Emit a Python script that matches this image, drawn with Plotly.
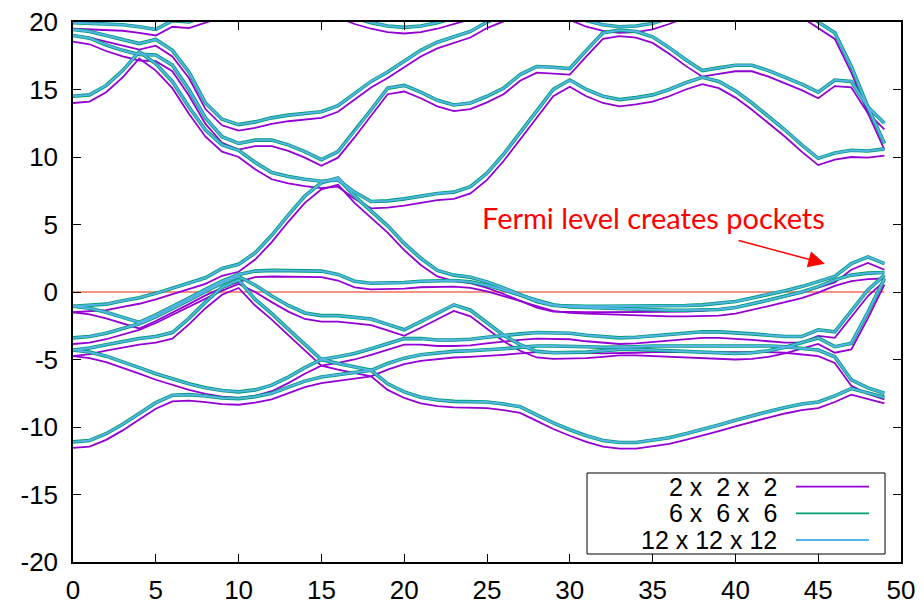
import plotly.graph_objects as go

# k-point index along the path
kpts = [0, 1, 2, 3, 4, 5, 6, 7, 8, 9, 10, 11, 12, 13, 14, 15, 16, 17, 18, 19,
        20, 21, 22, 23, 24, 25, 26, 27, 28, 29, 30, 31, 32, 33, 34, 35, 36, 37, 38, 39,
        40, 41, 42, 43, 44, 45, 46, 47, 48, 49]

# ---- bands, 6x6x6 grid (12x12x12 coincides at this resolution) ----
b1_666 = [-11.1, -11.0, -10.5, -9.8, -9.0, -8.2, -7.65, -7.6, -7.7, -7.85,
          -7.9, -7.75, -7.5, -7.05, -6.6, -6.3, -6.15, -6.0, -5.8, -5.3,
          -4.9, -4.65, -4.5, -4.4, -4.35, -4.3, -4.2, -4.1, -4.0, -4.0,
          -4.0, -4.05, -4.1, -4.1, -4.05, -4.0, -4.0, -3.95, -3.95, -3.95,
          -3.95, -3.95, -4.0, -4.05, -4.15, -4.3, -4.8, -6.5, -7.1, -7.5]
b2_666 = [-4.3, -4.15, -3.9, -3.65, -3.45, -3.3, -3.0, -1.95, -0.75, 0.35,
          0.9, -0.55, -1.6, -2.75, -3.9, -5.0, -5.3, -5.55, -5.8, -6.8,
          -7.4, -7.8, -8.0, -8.1, -8.1, -8.15, -8.3, -8.5, -9.1, -9.7,
          -10.2, -10.65, -11.0, -11.15, -11.15, -11.0, -10.8, -10.5, -10.2, -9.85,
          -9.5, -9.15, -8.85, -8.55, -8.3, -8.15, -7.7, -7.15, -7.5, -7.8]
b3_666 = [-4.3, -4.45, -4.75, -5.15, -5.6, -6.05, -6.45, -6.8, -7.1, -7.3,
          -7.4, -7.25, -6.9, -6.3, -5.6, -5.0, -4.8, -4.55, -4.2, -3.8,
          -3.45, -3.45, -3.55, -3.55, -3.5, -3.35, -3.2, -3.1, -3.0, -3.0,
          -3.05, -3.2, -3.3, -3.4, -3.35, -3.25, -3.1, -3.0, -2.95, -2.95,
          -3.0, -3.1, -3.2, -3.3, -3.3, -2.8, -2.95, -1.4, 0.15, 1.25]
b4_666 = [-3.4, -3.3, -3.05, -2.7, -2.35, -1.85, -1.25, -0.6, 0.05, 0.65,
          1.15, 0.5, -0.3, -1.0, -1.55, -1.75, -1.75, -1.85, -2.0, -2.4,
          -2.8, -2.2, -1.55, -0.95, -1.35, -2.3, -3.2, -3.9, -4.4, -4.5,
          -4.5, -4.45, -4.35, -4.25, -4.25, -4.3, -4.35, -4.45, -4.5, -4.55,
          -4.55, -4.5, -4.35, -4.1, -3.75, -3.4, -4.05, -3.8, -1.5, 1.0]
b5_666 = [-1.05, -1.2, -1.5, -1.9, -2.25, -1.7, -1.1, -0.45, 0.2, 0.8,
          1.3, 1.55, 1.6, 1.6, 1.6, 1.55, 1.3, 0.8, 0.65, 0.65,
          0.7, 0.8, 0.85, 0.85, 0.75, 0.5, 0.15, -0.25, -0.6, -0.95,
          -1.1, -1.15, -1.2, -1.25, -1.3, -1.3, -1.35, -1.35, -1.35, -1.3,
          -1.15, -0.9, -0.6, -0.3, 0.0, 0.4, 0.9, 1.25, 1.4, 1.45]
b6_666 = [-1.05, -1.0, -0.9, -0.65, -0.42, -0.1, 0.3, 0.7, 1.05, 1.75,
          2.05, 2.9, 4.2, 5.7, 7.1, 8.1, 8.45, 7.1, 6.0, 4.9,
          3.6, 2.5, 1.6, 1.25, 1.1, 0.75, 0.3, -0.2, -0.7, -1.0,
          -1.05, -1.05, -1.05, -1.05, -1.05, -1.05, -1.0, -1.0, -0.95, -0.85,
          -0.7, -0.45, -0.2, 0.1, 0.4, 0.75, 1.15, 2.1, 2.6, 2.1]
b7_666 = [14.5, 14.6, 15.3, 16.4, 17.8, 16.9, 15.6, 13.7, 12.0, 10.9,
          10.5, 9.6, 8.85, 8.55, 8.35, 8.2, 8.3, 7.4, 6.7, 6.75,
          6.9, 7.1, 7.3, 7.4, 7.8, 8.8, 10.2, 11.8, 13.4, 15.0,
          15.7, 15.0, 14.5, 14.25, 14.4, 14.6, 15.0, 15.5, 15.9, 15.6,
          14.9, 14.0, 13.0, 12.0, 10.9, 9.9, 10.3, 10.5, 10.45, 10.6]
b8_666 = [19.0, 18.8, 18.3, 17.9, 17.6, 17.55, 16.8, 15.0, 12.9, 11.5,
          11.0, 11.25, 11.25, 10.9, 10.4, 9.8, 10.4, 11.9, 13.5, 15.1,
          15.3, 14.8, 14.2, 13.85, 14.0, 14.5, 15.1, 16.1, 16.7, 16.65,
          16.55, 17.9, 19.2, 19.4, 19.3, 18.9, 18.1, 17.2, 16.4, 16.6,
          16.8, 16.8, 16.4, 15.9, 15.4, 14.8, 15.7, 15.6, 13.7, 12.5]
b9_666 = [19.45, 19.3, 19.0, 18.7, 18.4, 18.7, 17.9, 16.3, 14.0, 12.8,
          12.4, 12.6, 12.9, 13.1, 13.2, 13.35, 13.8, 14.7, 15.6, 16.3,
          17.1, 17.9, 18.5, 18.9, 19.3, 20.0, 20.5, 20.8, 21.0, 21.2,
          21.2, 21.2, 21.2, 21.2, 21.2, 21.2, 21.2, 21.2, 21.2, 21.2,
          21.2, 21.2, 21.2, 21.2, 20.8, 20.0, 19.2, 16.7, 13.7, 11.0]
b10_666 = [19.95, 19.9, 19.85, 19.8, 19.65, 19.45, 20.1, 20.0, 20.4, 20.8,
           21.2, 21.2, 21.2, 21.2, 21.2, 21.2, 20.8, 20.3, 19.95, 19.7,
           19.6, 19.7, 19.95, 20.3, 20.7, 21.0, 21.0, 21.0, 21.0, 21.0,
           20.6, 20.1, 19.8, 19.65, 19.7, 19.9, 20.3, 20.8, 21.2, 21.2,
           21.2, 21.2, 21.2, 21.2, 21.2, 21.2, 21.2, 21.2, 21.2, 21.2]

# ---- bands, 2x2x2 grid ----
b1_222 = [-11.55, -11.45, -10.95, -10.25, -9.45, -8.65, -8.1, -8.05, -8.15, -8.3,
          -8.35, -8.2, -7.95, -7.5, -7.05, -6.75, -6.6, -6.45, -6.25, -5.75,
          -5.35, -5.1, -4.95, -4.85, -4.8, -4.75, -4.65, -4.55, -4.45, -4.45,
          -4.45, -4.5, -4.55, -4.55, -4.5, -4.45, -4.45, -4.4, -4.4, -4.4,
          -4.4, -4.4, -4.45, -4.5, -4.6, -4.75, -5.25, -6.95, -7.55, -7.95]
b2_222 = [-4.75, -4.6, -4.35, -4.1, -3.9, -3.75, -3.45, -2.4, -1.2, -0.2,
          0.3, -1.0, -2.05, -3.2, -4.35, -5.45, -5.75, -6.0, -6.25, -7.25,
          -7.85, -8.25, -8.45, -8.55, -8.55, -8.6, -8.75, -8.95, -9.55, -10.15,
          -10.65, -11.1, -11.45, -11.6, -11.6, -11.45, -11.25, -10.95, -10.65, -10.3,
          -9.95, -9.6, -9.3, -9.0, -8.75, -8.6, -8.15, -7.6, -7.95, -8.25]
b3_222 = [-4.75, -4.9, -5.2, -5.6, -6.05, -6.5, -6.9, -7.25, -7.55, -7.75,
          -7.85, -7.7, -7.35, -6.75, -6.05, -5.45, -5.25, -5.0, -4.65, -4.25,
          -3.9, -3.9, -4.0, -4.0, -3.95, -3.8, -3.65, -3.55, -3.45, -3.45,
          -3.5, -3.65, -3.75, -3.85, -3.8, -3.7, -3.55, -3.45, -3.4, -3.4,
          -3.45, -3.55, -3.65, -3.75, -3.75, -3.25, -3.4, -1.85, -0.3, 0.8]
b4_222 = [-3.85, -3.75, -3.5, -3.15, -2.8, -2.3, -1.7, -1.05, -0.45, 0.1,
          0.6, 0.0, -0.75, -1.45, -2.0, -2.2, -2.2, -2.3, -2.45, -2.85,
          -3.25, -2.65, -2.0, -1.4, -1.8, -2.75, -3.65, -4.35, -4.85, -4.95,
          -4.95, -4.9, -4.8, -4.7, -4.7, -4.75, -4.8, -4.9, -4.95, -5.0,
          -5.0, -4.95, -4.8, -4.55, -4.2, -3.85, -4.5, -4.25, -1.95, 0.55]
b5_222 = [-1.5, -1.65, -1.95, -2.35, -2.7, -2.15, -1.55, -0.9, -0.25, 0.3,
          0.75, 1.1, 1.15, 1.15, 1.15, 1.1, 0.85, 0.35, 0.2, 0.2,
          0.25, 0.35, 0.4, 0.4, 0.3, 0.05, -0.3, -0.7, -1.05, -1.4,
          -1.55, -1.6, -1.65, -1.7, -1.75, -1.75, -1.8, -1.8, -1.8, -1.75,
          -1.6, -1.35, -1.05, -0.75, -0.45, -0.05, 0.45, 0.8, 0.95, 1.0]
b6_222 = [-1.5, -1.45, -1.35, -1.1, -0.87, -0.55, -0.15, 0.25, 0.6, 1.2,
          1.5, 2.4, 3.7, 5.2, 6.6, 7.6, 7.95, 6.6, 5.5, 4.4,
          3.1, 2.0, 1.15, 0.8, 0.65, 0.3, -0.15, -0.65, -1.15, -1.45,
          -1.5, -1.5, -1.5, -1.5, -1.5, -1.5, -1.45, -1.45, -1.4, -1.3,
          -1.15, -0.9, -0.65, -0.35, -0.05, 0.3, 0.7, 1.65, 2.15, 1.65]
b7_222 = [14.0, 14.1, 14.8, 15.9, 17.3, 16.4, 15.1, 13.2, 11.5, 10.4,
          10.0, 9.1, 8.35, 8.05, 7.85, 7.7, 7.8, 6.9, 6.2, 6.25,
          6.4, 6.6, 6.8, 6.9, 7.3, 8.3, 9.7, 11.3, 12.9, 14.5,
          15.2, 14.5, 14.0, 13.75, 13.9, 14.1, 14.5, 15.0, 15.4, 15.1,
          14.4, 13.5, 12.5, 11.5, 10.4, 9.4, 9.8, 10.0, 9.95, 10.1]
b8_222 = [18.55, 18.35, 17.85, 17.45, 17.15, 17.1, 16.35, 14.55, 12.45, 11.05,
          10.55, 10.8, 10.8, 10.45, 9.95, 9.35, 9.95, 11.45, 13.05, 14.65,
          14.85, 14.35, 13.75, 13.4, 13.55, 14.05, 14.65, 15.65, 16.25, 16.2,
          16.1, 17.45, 18.75, 18.95, 18.85, 18.45, 17.65, 16.75, 15.95, 16.15,
          16.35, 16.35, 15.95, 15.45, 14.95, 14.35, 15.25, 15.15, 13.25, 12.05]
b9_222 = [19.0, 18.85, 18.55, 18.25, 17.95, 18.25, 17.45, 15.85, 13.55, 12.35,
          11.95, 12.15, 12.45, 12.65, 12.75, 12.9, 13.35, 14.25, 15.15, 15.85,
          16.65, 17.45, 18.05, 18.45, 18.85, 19.55, 20.05, 20.35, 20.55, 20.75,
          20.75, 20.75, 20.75, 20.75, 20.75, 20.75, 20.75, 20.75, 20.75, 20.75,
          20.75, 20.75, 20.75, 20.75, 20.35, 19.55, 18.75, 16.25, 13.25, 10.55]
b10_222 = [19.5, 19.45, 19.4, 19.35, 19.2, 19.0, 19.65, 19.55, 19.95, 20.35,
           20.75, 20.75, 20.75, 20.75, 20.75, 20.75, 20.35, 19.85, 19.5, 19.25,
           19.15, 19.25, 19.5, 19.85, 20.25, 20.55, 20.55, 20.55, 20.55, 20.55,
           20.15, 19.65, 19.35, 19.2, 19.25, 19.45, 19.85, 20.35, 20.75, 20.75,
           20.75, 20.75, 20.75, 20.75, 20.75, 20.75, 20.75, 20.75, 20.75, 20.75]

fermi_x = [0, 49]
fermi_level = [0, 0]

series_names = ["2 x\u00a0\u00a02 x\u00a0\u00a02", "6 x\u00a0\u00a06 x\u00a0\u00a06", "12 x 12 x 12"]
x_ticks = [0, 5, 10, 15, 20, 25, 30, 35, 40, 45, 50]
x_tick_labels = ["0", "5", "10", "15", "20", "25", "30", "35", "40", "45", "50"]
y_ticks = [-20, -15, -10, -5, 0, 5, 10, 15, 20]
y_tick_labels = ["-20", "-15", "-10", "-5", "0", "5", "10", "15", "20"]

bands_222 = [b1_222, b2_222, b3_222, b4_222, b5_222, b6_222, b7_222, b8_222, b9_222, b10_222]
bands_666 = [b1_666, b2_666, b3_666, b4_666, b5_666, b6_666, b7_666, b8_666, b9_666, b10_666]
bands_121212 = bands_666

PURPLE = "#9400D3"
GREEN = "#009E73"
CYAN = "#56B4E9"

fig = go.Figure()

fig.add_trace(go.Scatter(x=fermi_x, y=fermi_level, mode="lines",
                         line=dict(color="rgba(235,95,75,0.9)", width=1.4),
                         hoverinfo="skip", showlegend=False))

for b in bands_222:
    fig.add_trace(go.Scatter(x=kpts, y=b, mode="lines", name=series_names[0],
                             line=dict(color=PURPLE, width=1.8), showlegend=False))
for b in bands_666:
    fig.add_trace(go.Scatter(x=kpts, y=b, mode="lines", name=series_names[1],
                             line=dict(color=GREEN, width=3.6), showlegend=False))
for b in bands_121212:
    fig.add_trace(go.Scatter(x=kpts, y=b, mode="lines", name=series_names[2],
                             line=dict(color=CYAN, width=1.9), showlegend=False))

axis_font = dict(family="Liberation Sans, Arial, sans-serif", size=26, color="black")
common_axis = dict(showgrid=False, zeroline=False, showline=True, mirror="ticks",
                   linecolor="black", linewidth=1.5, ticks="inside", ticklen=8,
                   tickwidth=1, tickcolor="black", tickfont=axis_font, automargin=False,
                   ticklabeloverflow="allow")

# the page body adds an 8px offset, so the figure is 916x594 and margins compensate
fig.update_layout(
    width=916, height=594,
    margin=dict(l=65, r=23, t=14, b=40),
    plot_bgcolor="white", paper_bgcolor="white",
    showlegend=False,
    xaxis=dict(range=[0, 50], tickvals=x_ticks, ticktext=x_tick_labels,
               ticklabelstandoff=4, **common_axis),
    yaxis=dict(range=[-20, 20], tickvals=y_ticks, ticktext=y_tick_labels,
               ticklabelstandoff=8, **common_axis),
)

# Legend box (bottom right), text to the left of the line samples
fig.add_shape(type="rect", xref="paper", yref="paper", x0=0.6208, x1=0.9807,
              y0=0.0148, y1=0.1648, line=dict(color="black", width=1),
              fillcolor="white", layer="above")
legend_rows = [0.1394, 0.0901, 0.0407]
legend_cols = [PURPLE, GREEN, CYAN]
for name, yrow, col in zip(series_names, legend_rows, legend_cols):
    fig.add_annotation(x=0.8527, y=yrow, xref="paper", yref="paper", text=name,
                       showarrow=False, xanchor="right", yanchor="middle",
                       font=dict(family="Liberation Sans, Arial, sans-serif", size=25, color="black"))
    fig.add_shape(type="line", xref="paper", yref="paper", x0=0.8732, x1=0.9614,
                  y0=yrow, y1=yrow, line=dict(color=col, width=1.8), layer="above")

# Annotation text and arrow
fig.add_annotation(x=24.6, y=5.5, xref="x", yref="y", xanchor="left", yanchor="middle",
                   text="Fermi level creates pockets", showarrow=False,
                   font=dict(family="Lato, Open Sans, sans-serif", size=29, color="#FF0000"))
fig.add_annotation(x=45.4, y=2.1, ax=40.1, ay=3.85, xref="x", yref="y", axref="x", ayref="y",
                   text="", showarrow=True, arrowhead=2, arrowsize=2.2, arrowwidth=1.5,
                   arrowcolor="#FF0000")

fig.write_html("out.html")
